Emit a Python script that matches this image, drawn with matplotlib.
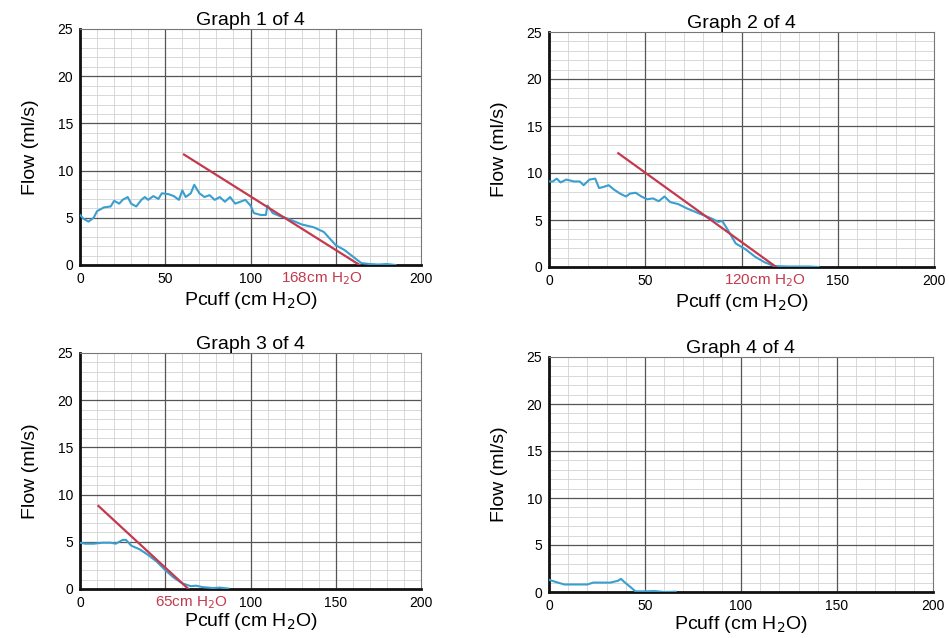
import numpy as np
import matplotlib.pyplot as plt
from matplotlib.ticker import MultipleLocator

plt.rcParams['font.family'] = ['Liberation Sans', 'DejaVu Sans']

# Graph 1 trace
x1 = [0, 2, 5, 8, 10, 14, 18, 20, 23, 25, 28, 30, 33, 36, 38, 40, 43, 46, 48, 52,
      55, 58, 60, 62, 65, 67, 70, 73, 76, 79, 82, 85, 88, 91, 94, 97, 100, 102, 106,
      109, 110, 113, 117, 122, 130, 137, 143, 150, 155, 160, 165, 170, 175, 180, 185]
y1 = [5.3, 4.9, 4.6, 5.0, 5.7, 6.1, 6.2, 6.8, 6.5, 6.9, 7.2, 6.5, 6.2, 6.9, 7.2, 6.9,
      7.3, 7.0, 7.6, 7.5, 7.3, 6.9, 7.9, 7.2, 7.6, 8.5, 7.6, 7.2, 7.4, 6.9, 7.2, 6.7,
      7.2, 6.5, 6.7, 6.9, 6.3, 5.5, 5.3, 5.3, 6.3, 5.5, 5.2, 4.9, 4.3, 4.0, 3.5, 2.1,
      1.6, 0.9, 0.2, 0.1, 0.05, 0.1, 0.0]

# Graph 2 trace
x2 = [0, 2, 4, 6, 9, 13, 16, 18, 21, 24, 26, 28, 31, 34, 37, 40, 42, 45, 48, 51, 54,
      57, 60, 63, 67, 72, 78, 84, 88, 90, 93, 97, 102, 107, 112, 117, 125, 135, 140]
y2 = [9.1, 9.1, 9.4, 9.0, 9.3, 9.1, 9.1, 8.7, 9.3, 9.4, 8.4, 8.5, 8.7, 8.2, 7.8, 7.5,
      7.8, 7.9, 7.5, 7.2, 7.3, 7.0, 7.5, 6.9, 6.7, 6.2, 5.7, 5.2, 4.8, 4.9, 3.9, 2.5,
      1.9, 1.1, 0.5, 0.1, 0.05, 0.05, 0.0]

# Graph 3 trace
x3 = [0, 3, 8, 13, 18, 21, 25, 27, 30, 35, 40, 45, 50, 55, 60, 65, 68, 72, 78, 82, 87]
y3 = [4.9, 4.8, 4.8, 4.9, 4.9, 4.8, 5.2, 5.2, 4.6, 4.2, 3.6, 2.9, 2.0, 1.2, 0.6, 0.3,
      0.35, 0.2, 0.1, 0.15, 0.05]

# Graph 4 trace
x4 = [0, 3, 8, 14, 20, 23, 28, 32, 36, 37.5, 39, 42, 45, 50, 55, 60, 66]
y4 = [1.3, 1.1, 0.8, 0.8, 0.8, 1.0, 1.0, 1.0, 1.2, 1.4, 1.1, 0.6, 0.07, 0.07, 0.1, 0.0, 0.03]

# tangent lines (start x, start y, end x) and their labels
fits = [(61, 11.7, 164), (36, 12.1, 118), (10.8, 8.8, 63.6), None]
labels = ['168cm H$_2$O', '120cm H$_2$O', '65cm H$_2$O', None]
label_x = [142, 112, 65.5, None]

# x tick labels (the red label sits on top of one of them)
xticks = [0, 50, 100, 150, 200]
xticklabels = [['0', '50', '100', '', '200'],
               ['0', '50', '', '150', '200'],
               ['0', '', '100', '150', '200'],
               ['0', '50', '100', '150', '200']]

traces = [(x1, y1), (x2, y2), (x3, y3), (x4, y4)]
titles = ['Graph 1 of 4', 'Graph 2 of 4', 'Graph 3 of 4', 'Graph 4 of 4']

# axes boxes in pixels: left, top, right, bottom
boxes = [(80, 29, 421, 265), (549, 32, 934, 267), (80, 353, 421, 589), (549, 357, 933, 592)]

W, H = 949, 638
fig = plt.figure(figsize=(W / 100, H / 100), dpi=100)

blue = '#3a9fd0'
red = '#c33a4e'

for i in range(4):
    l, t, r, b = boxes[i]
    ax = fig.add_axes([l / W, (H - b) / H, (r - l) / W, (b - t) / H])
    ax.set_xlim(0, 200)
    ax.set_ylim(0, 25)
    ax.set_xticks(xticks)
    ax.set_xticklabels(xticklabels[i])
    ax.yaxis.set_major_locator(MultipleLocator(5))

    # graph paper: light minor lines first, dark major lines on top
    for v in range(10, 200, 10):
        ax.axvline(v, color='#d2d2d2', lw=0.6, zorder=0.5)
    for v in range(1, 25):
        ax.axhline(v, color='#d2d2d2', lw=0.6, zorder=0.5)
    for v in range(50, 200, 50):
        ax.axvline(v, color='#555555', lw=0.9, zorder=0.6)
    for v in range(5, 25, 5):
        ax.axhline(v, color='#555555', lw=0.9, zorder=0.6)

    ax.tick_params(which='both', length=0, labelsize=10, pad=5)
    for s in ['left', 'bottom']:
        ax.spines[s].set_linewidth(2)
        ax.spines[s].set_color('#111111')
    for s in ['top', 'right']:
        ax.spines[s].set_linewidth(0.8)
        ax.spines[s].set_color('#777777')

    xs, ys = traces[i]
    ax.plot(xs, ys, color=blue, lw=1.5, zorder=3)

    if fits[i] is not None:
        x0, y0, xe = fits[i]
        ax.plot([x0, xe], [y0, 0], color=red, lw=1.6, zorder=4)
        ax.annotate(labels[i], xy=(label_x[i], 0), xycoords=('data', 'axes fraction'),
                    xytext=(0, -10), textcoords='offset points',
                    color=red, fontsize=11, ha='center', va='center',
                    annotation_clip=False, zorder=6)

    ax.set_title(titles[i], fontsize=14, pad=1.5)
    ax.set_xlabel('Pcuff (cm H$_2$O)', fontsize=14, labelpad=3 if i < 2 else 0.5)
    ax.set_ylabel('Flow (ml/s)', fontsize=14, labelpad=13)

fig.savefig('out.png', dpi=100)
